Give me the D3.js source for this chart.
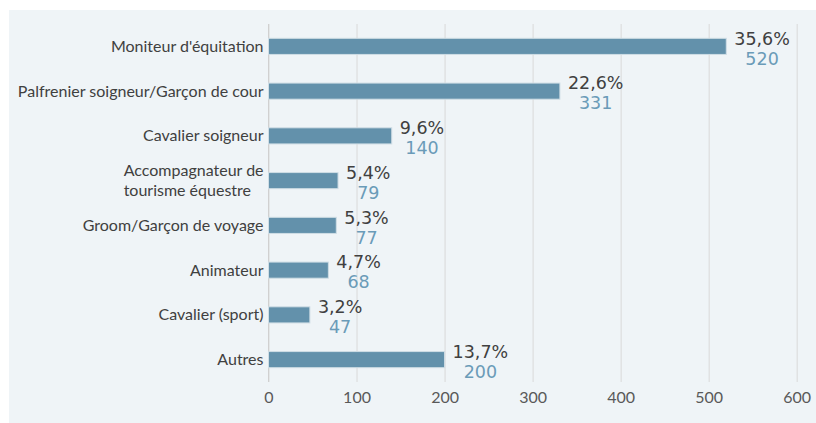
<!DOCTYPE html>
<html>
<head>
<meta charset="utf-8">
<script src="https://cdn.jsdelivr.net/npm/d3@7"></script>
<style>
  html, body { margin: 0; padding: 0; background: #ffffff; }
  svg { display: block; }
</style>
</head>
<body>
<svg id="chart" width="816" height="423"></svg>
<script>
// Métiers exercés : effectifs et parts
const categories = [
  "Moniteur d'équitation",
  "Palfrenier soigneur/Garçon de cour",
  "Cavalier soigneur",
  "Accompagnateur de\ntourisme équestre",
  "Groom/Garçon de voyage",
  "Animateur",
  "Cavalier (sport)",
  "Autres"
];
const counts = [520, 331, 140, 79, 77, 68, 47, 200];
const shares = ["35,6%", "22,6%", "9,6%", "5,4%", "5,3%", "4,7%", "3,2%", "13,7%"];
const xTicks = [0, 100, 200, 300, 400, 500, 600];

const svg = d3.select("#chart");
const W = 816, H = 423;

// panel background
svg.append("rect")
  .attr("x", 9).attr("y", 10)
  .attr("width", W - 9).attr("height", H - 10)
  .attr("fill", "#eff4f7");

const plot = { left: 268.5, right: 796.7, top: 24, bottom: 382 };

const x = d3.scaleLinear().domain([0, 600]).range([plot.left, plot.right]);
const y = d3.scaleBand().domain(categories)
  .range([plot.top, plot.bottom])
  .paddingInner(0.64).paddingOuter(0.32);

const labelFont = "Lato, 'Open Sans', sans-serif";
const labelSize = "16px";
const valueFont = "'DejaVu Sans', Verdana, sans-serif";
const valueSize = "17.5px";

// vertical gridlines and bottom tick labels
const xAxis = d3.axisBottom(x).tickValues(xTicks).tickSize(-(plot.bottom - plot.top)).tickPadding(10);
const gx = svg.append("g")
  .attr("transform", `translate(0,${plot.bottom})`)
  .call(xAxis);
gx.select(".domain").remove();
gx.selectAll(".tick line").attr("stroke", "#d9d9d9").attr("stroke-width", 1);
gx.selectAll(".tick text")
  .attr("fill", "#595959")
  .style("font-family", labelFont)
  .style("font-size", labelSize);

// category axis line
svg.append("line")
  .attr("x1", x(0)).attr("x2", x(0))
  .attr("y1", plot.top).attr("y2", plot.bottom)
  .attr("stroke", "#d0d0d0");

// bars
svg.append("g").selectAll("rect")
  .data(categories)
  .join("rect")
  .attr("x", x(0))
  .attr("y", d => y(d))
  .attr("width", (d, i) => x(counts[i]) - x(0))
  .attr("height", y.bandwidth())
  .attr("fill", "#6391ab")
  .attr("stroke", "#cfdde5")
  .attr("stroke-width", 1);

// category labels (multi-line blocks right-aligned to the axis, lines left-aligned)
const catG = svg.append("g");
categories.forEach((c, i) => {
  const lines = c.split("\n");
  const cy = y(c) + y.bandwidth() / 2;
  const lh = 20;
  const t = catG.append("text")
    .attr("fill", "#404040")
    .style("font-family", labelFont)
    .style("font-size", labelSize);
  const spans = lines.map(ln => t.append("tspan").text(ln));
  const widths = spans.map(s => s.node().getComputedTextLength());
  const maxW = d3.max(widths);
  const right = x(0) - 5;
  const startX = right - maxW;
  spans.forEach((s, k) => {
    s.attr("x", lines.length > 1 ? startX : right - widths[k])
     .attr("y", cy + (k - (lines.length - 1) / 2) * lh)
     .attr("dy", "0.35em");
  });
});

// value labels: share on top, count below, centred on each other
const valG = svg.append("g");
categories.forEach((c, i) => {
  const cy = y(c) + y.bandwidth() / 2;
  const pct = valG.append("text")
    .attr("y", cy - 8)
    .attr("dy", "0.35em")
    .attr("fill", "#404040")
    .style("font-family", valueFont)
    .style("font-size", valueSize)
    .text(shares[i]);
  const w = pct.node().getComputedTextLength();
  const cx = x(counts[i]) + 8 + w / 2;
  pct.attr("x", cx).attr("text-anchor", "middle");
  valG.append("text")
    .attr("x", cx)
    .attr("y", cy + 12)
    .attr("dy", "0.35em")
    .attr("text-anchor", "middle")
    .attr("fill", "#6a9bb8")
    .style("font-family", valueFont)
    .style("font-size", valueSize)
    .text(counts[i]);
});
</script>
</body>
</html>
